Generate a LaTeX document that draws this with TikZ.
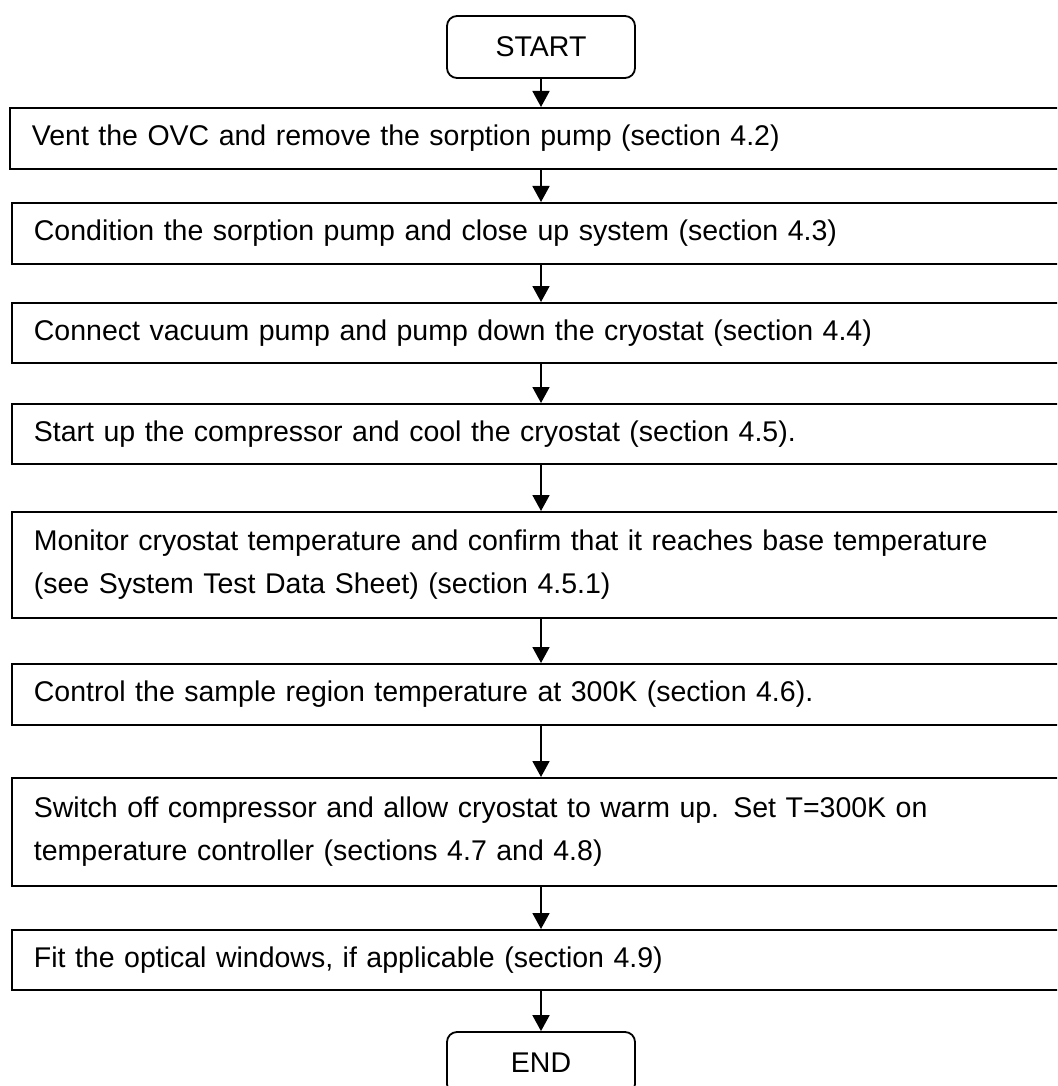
\documentclass[tikz,border=0pt]{standalone}
\usepackage{fontspec}
\setmainfont{Liberation Sans}
\usetikzlibrary{arrows.meta}
\begin{document}
\begin{tikzpicture}[x=1pt,y=-1pt,
  stepbox/.style={draw, line width=1.8pt, anchor=north west, text width=1030pt, align=left,
    inner xsep=22pt, inner ysep=0pt, font=\fontsize{28.5}{43}\selectfont},
  term/.style={draw, rounded corners=10pt, minimum width=188pt, minimum height=62pt,
    line width=1.8pt, font=\fontsize{28.5}{34}\selectfont},
  arr/.style={line width=1.8pt, -{Triangle[length=16pt,width=17pt]}}]
\useasboundingbox (0,0) rectangle (1057,1086);
\clip (0,0) rectangle (1057,1086);
\node[term] (start) at (541,47) {START};
\node[stepbox, minimum height=61pt] (b1) at (9,107) {Vent the OVC and remove the sorption pump (section 4.2)};
\node[stepbox, minimum height=61pt] (b2) at (11,202) {Condition the sorption pump and close up system (section 4.3)};
\node[stepbox, minimum height=60pt] (b3) at (11,302) {Connect vacuum pump and pump down the cryostat (section 4.4)};
\node[stepbox, minimum height=60pt] (b4) at (11,403) {Start up the compressor and cool the cryostat (section 4.5).};
\node[stepbox, minimum height=106pt] (b5) at (11,511) {Monitor cryostat temperature and confirm that it reaches base temperature\\(see System Test Data Sheet) (section 4.5.1)};
\node[stepbox, minimum height=61pt] (b6) at (11,663) {Control the sample region temperature at 300K (section 4.6).};
\node[stepbox, minimum height=108pt] (b7) at (11,777) {Switch off compressor and allow cryostat to warm up. Set T=300K on\\temperature controller (sections 4.7 and 4.8)};
\node[stepbox, minimum height=60pt] (b8) at (11,929) {Fit the optical windows, if applicable (section 4.9)};
\node[term] (end) at (541,1063) {END};
\draw[arr] (start.south) -- (start.south |- b1.north);
\draw[arr] (b1.south -| start) -- (b2.north -| start);
\draw[arr] (b2.south -| start) -- (b3.north -| start);
\draw[arr] (b3.south -| start) -- (b4.north -| start);
\draw[arr] (b4.south -| start) -- (b5.north -| start);
\draw[arr] (b5.south -| start) -- (b6.north -| start);
\draw[arr] (b6.south -| start) -- (b7.north -| start);
\draw[arr] (b7.south -| start) -- (b8.north -| start);
\draw[arr] (b8.south -| start) -- (end.north);
\end{tikzpicture}
\end{document}
